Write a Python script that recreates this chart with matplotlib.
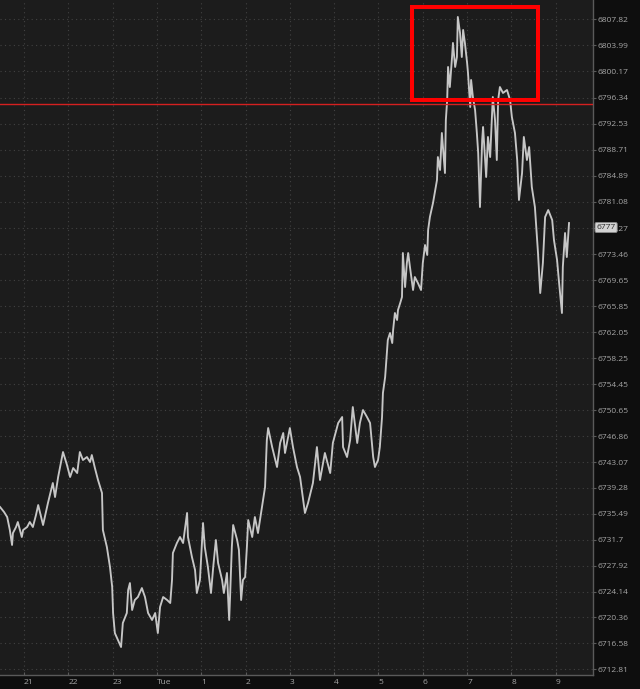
import matplotlib
matplotlib.use("Agg")
import matplotlib.pyplot as plt
from matplotlib.patches import Rectangle

# ---- data (hours relative to Tue 00:00, price) ----
hours = [-3.54, -3.45, -3.38, -3.32, -3.27, -3.25, -3.18, -3.14, -3.05, -3.02,
         -2.93, -2.87, -2.80, -2.73, -2.68, -2.57, -2.46, -2.35, -2.30, -2.23,
         -2.14, -2.12, -2.03, -1.96, -1.89, -1.80, -1.74, -1.67, -1.58, -1.51,
         -1.47, -1.40, -1.33, -1.24, -1.22, -1.13, -1.06, -1.01, -0.99, -0.95,
         -0.88, -0.81, -0.77, -0.68, -0.65, -0.61, -0.56, -0.50, -0.43, -0.34,
         -0.27, -0.20, -0.11, -0.04, 0.02, 0.07, 0.14, 0.23, 0.30, 0.34,
         0.36, 0.45, 0.52, 0.59, 0.68, 0.70, 0.79, 0.86, 0.90, 0.97,
         1.04, 1.08, 1.15, 1.22, 1.27, 1.33, 1.38, 1.47, 1.51, 1.58,
         1.63, 1.65, 1.69, 1.72, 1.81, 1.85, 1.90, 1.94, 1.99, 2.03,
         2.06, 2.15, 2.21, 2.28, 2.37, 2.44, 2.48, 2.51, 2.60, 2.71,
         2.78, 2.85, 2.89, 3.00, 3.07, 3.16, 3.23, 3.30, 3.34, 3.41,
         3.52, 3.61, 3.68, 3.79, 3.91, 3.97, 4.09, 4.18, 4.20, 4.29,
         4.36, 4.42, 4.52, 4.58, 4.65, 4.74, 4.81, 4.88, 4.92, 4.99,
         5.03, 5.08, 5.10, 5.15, 5.19, 5.21, 5.26, 5.31, 5.33, 5.37,
         5.42, 5.44, 5.49, 5.53, 5.55, 5.60, 5.64, 5.67, 5.71, 5.78,
         5.82, 5.89, 5.96, 6.00, 6.05, 6.10, 6.12, 6.16, 6.23, 6.32,
         6.34, 6.39, 6.43, 6.46, 6.50, 6.52, 6.55, 6.57, 6.61, 6.66,
         6.68, 6.73, 6.77, 6.79, 6.84, 6.88, 6.91, 6.95, 7.00, 7.02,
         7.07, 7.09, 7.13, 7.18, 7.22, 7.25, 7.29, 7.34, 7.36, 7.43,
         7.47, 7.52, 7.58, 7.63, 7.67, 7.70, 7.74, 7.81, 7.90, 7.97,
         8.01, 8.08, 8.13, 8.17, 8.24, 8.28, 8.35, 8.40, 8.46, 8.53,
         8.60, 8.65, 8.71, 8.76, 8.83, 8.92, 8.96, 9.03, 9.07, 9.14,
         9.16, 9.21, 9.25, 9.30]

prices = [6736.49, 6735.76, 6735.03, 6733.13, 6730.94, 6732.69, 6733.57, 6734.30, 6732.11, 6733.13,
          6733.57, 6734.30, 6733.57, 6735.32, 6736.78, 6733.86, 6737.08, 6740.00, 6737.95, 6740.88,
          6743.80, 6744.53, 6742.63, 6740.88, 6742.19, 6741.46, 6744.53, 6743.36, 6743.80, 6743.07,
          6744.09, 6742.19, 6740.44, 6738.54, 6733.13, 6730.65, 6727.72, 6724.80, 6721.00, 6718.07,
          6717.05, 6716.03, 6719.54, 6721.00, 6724.36, 6725.38, 6721.44, 6722.90, 6723.34, 6724.65,
          6723.34, 6721.00, 6719.98, 6721.00, 6718.07, 6721.88, 6723.34, 6722.90, 6722.46, 6725.82,
          6729.77, 6731.23, 6732.11, 6731.23, 6735.62, 6732.11, 6729.18, 6727.28, 6723.92, 6725.82,
          6734.15, 6730.65, 6727.72, 6723.92, 6727.72, 6731.67, 6728.31, 6725.82, 6723.92, 6726.85,
          6719.98, 6723.34, 6730.65, 6733.86, 6731.67, 6730.21, 6722.90, 6725.82, 6726.26, 6730.65,
          6734.59, 6732.11, 6735.03, 6732.69, 6736.49, 6739.42, 6746.29, 6748.04, 6745.26, 6742.34,
          6745.85, 6747.31, 6744.39, 6748.04, 6745.26, 6742.34, 6740.88, 6737.52, 6735.62, 6737.08,
          6740.00, 6745.26, 6740.44, 6744.39, 6741.46, 6745.85, 6748.77, 6749.65, 6745.26, 6743.80,
          6746.29, 6751.11, 6745.85, 6748.77, 6750.67, 6749.65, 6748.77, 6743.80, 6742.34, 6743.36,
          6745.26, 6749.65, 6753.16, 6755.49, 6759.00, 6760.90, 6761.93, 6760.46, 6762.36, 6764.85,
          6763.83, 6765.29, 6766.31, 6767.19, 6773.62, 6768.65, 6772.16, 6773.62, 6771.57, 6768.21,
          6770.11, 6769.23, 6768.21, 6772.16, 6774.79, 6773.33, 6776.98, 6778.88, 6780.93, 6784.29,
          6787.65, 6785.75, 6791.16, 6788.67, 6785.31, 6793.06, 6795.98, 6800.81, 6797.88, 6802.27,
          6804.32, 6800.81, 6802.27, 6808.12, 6805.78, 6802.27, 6806.22, 6804.32, 6801.39, 6799.93,
          6794.96, 6798.91, 6796.42, 6794.52, 6791.16, 6788.24, 6780.34, 6790.14, 6792.04, 6784.73,
          6790.58, 6787.65, 6796.42, 6793.06, 6787.21, 6795.98, 6797.88, 6797.01, 6797.45, 6795.98,
          6793.50, 6791.16, 6787.21, 6781.37, 6785.31, 6790.58, 6787.21, 6789.11, 6783.27, 6780.34,
          6773.62, 6767.77, 6772.16, 6778.88, 6779.90, 6778.44, 6775.52, 6772.60, 6769.67, 6764.85,
          6771.57, 6776.54, 6773.03, 6778.00]

ytick_values = [6807.82, 6803.99, 6800.17, 6796.34, 6792.53, 6788.71, 6784.89, 6781.08,
                6777.27, 6773.46, 6769.65, 6765.85, 6762.05, 6758.25, 6754.45, 6750.65,
                6746.86, 6743.07, 6739.28, 6735.49, 6731.7, 6727.92, 6724.14, 6720.36,
                6716.58, 6712.81]
ytick_labels = ["6807.82", "6803.99", "6800.17", "6796.34", "6792.53", "6788.71", "6784.89", "6781.08",
                "6777.27", "6773.46", "6769.65", "6765.85", "6762.05", "6758.25", "6754.45", "6750.65",
                "6746.86", "6743.07", "6739.28", "6735.49", "6731.7", "6727.92", "6724.14", "6720.36",
                "6716.58", "6712.81"]
xtick_values = [-3, -2, -1, 0, 1, 2, 3, 4, 5, 6, 7, 8, 9]
xtick_labels = ["21", "22", "23", "Tue", "1", "2", "3", "4", "5", "6", "7", "8", "9"]

level_price = 6795.35          # red horizontal line
box_x = (5.76, 8.60)           # highlight box (hours)
box_y = (6796.03, 6809.53)     # highlight box (price)
current_price = 6777.35
current_label = "6777"

# ---- figure ----
plt.rcParams['font.family'] = ['Open Sans', 'DejaVu Sans']
fig = plt.figure(figsize=(6.4, 6.89), dpi=100, facecolor='#0e0e0e')
ax = fig.add_axes([0.0, 14/689, 593/640, 675/689])
ax.set_facecolor('#1c1c1c')

ax.set_xlim(-3.542, 9.841)
ax.set_ylim(6711.94, 6810.60)

ax.set_yticks(ytick_values)
ax.set_yticklabels(ytick_labels)
ax.set_xticks(xtick_values)
ax.set_xticklabels(xtick_labels, ha='left')

ax.yaxis.tick_right()
ax.tick_params(axis='y', colors='#5a5a5a', labelcolor='#a6a6a6', labelsize=6,
               length=2, width=0.8, pad=1, direction='out')
ax.tick_params(axis='x', colors='#5a5a5a', labelcolor='#a6a6a6', labelsize=6,
               length=2, width=0.8, pad=3, direction='in')

for s in ['left', 'top']:
    ax.spines[s].set_visible(False)
for s in ['right', 'bottom']:
    ax.spines[s].set_color('#5a5a5a')
    ax.spines[s].set_linewidth(1.0)

ax.grid(True, color='#424242', linestyle=(0, (1, 3)), linewidth=0.8)
ax.set_axisbelow(True)

ax.plot(hours, prices, color='#c6c6c6', linewidth=1.35, zorder=3)

ax.axhline(level_price, color='#d42020', linewidth=1.0, zorder=4)

rect = Rectangle((box_x[0], box_y[0]), box_x[1] - box_x[0], box_y[1] - box_y[0],
                 fill=False, edgecolor='#ff0000', linewidth=2.9, zorder=5)
ax.add_patch(rect)

ax.text(1.006, current_price, current_label, transform=ax.get_yaxis_transform(),
        ha='left', va='center', fontsize=6, color='#2a2a2a', clip_on=False, zorder=10,
        bbox=dict(boxstyle='round,pad=0.18', fc='#d2d2d2', ec='#8a8a8a', lw=0.6))

fig.savefig('out.png', dpi=100, facecolor=fig.get_facecolor())
